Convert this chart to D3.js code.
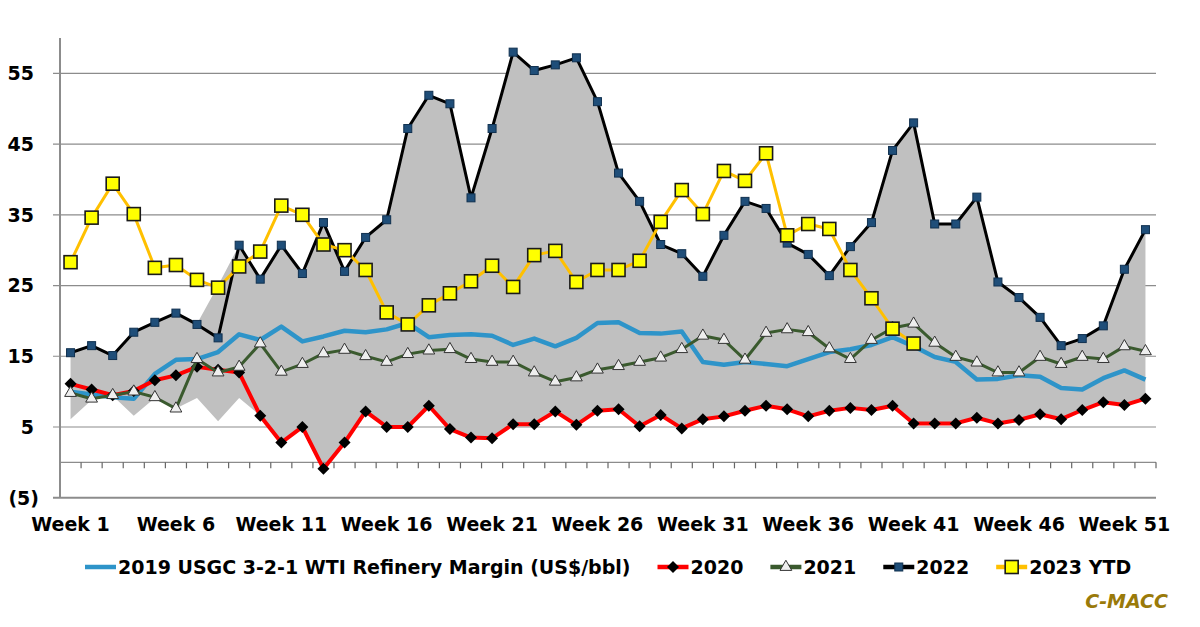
<!DOCTYPE html>
<html lang="en">
<head>
  <meta charset="UTF-8" />
  <title>USGC 3-2-1 WTI Refinery Margin</title>
  <style>
  body {
    margin: 0;
    background: #fff;
  }
  svg {
    display: block;
    font-family: "DejaVu Sans", sans-serif;
    font-weight: bold;
  }
  </style>
  <script src="https://d3js.org/d3.v7.min.js"></script>
</head>
<body>
  <div id="chart"></div>
  <script>
    // Weeks 1..52
    const weeks = d3.range(1, 53).map(i => "Week " + i);
    const weekLabels = ["Week 1", "Week 6", "Week 11", "Week 16", "Week 21", "Week 26", "Week 31", "Week 36", "Week 41", "Week 46", "Week 51"];
    const yTicks = [-5, 5, 15, 25, 35, 45, 55];

    const y2019 = [10.0, 9.6, 9.2, 9.0, 12.5, 14.5, 14.6, 15.6, 18.1, 17.3, 19.2, 17.1, 17.8, 18.6, 18.4, 18.8, 19.7, 17.7, 18.0, 18.1,
      17.9, 16.6, 17.5, 16.4, 17.6, 19.7, 19.8, 18.3, 18.2, 18.5, 14.2, 13.8, 14.2, 13.9, 13.6, 14.6, 15.6, 16.0, 16.6, 17.7,
      16.4, 14.9, 14.2, 11.7, 11.8, 12.3, 12.1, 10.5, 10.3, 11.9, 13.0, 11.7];
    const y2020 = [11.1, 10.3, 9.5, 10.1, 11.6, 12.3, 13.5, 13.1, 12.7, 6.6, 2.8, 5.0, -0.9, 2.8, 7.2, 5.0, 5.0, 8.0, 4.7, 3.5,
      3.4, 5.4, 5.4, 7.2, 5.3, 7.3, 7.5, 5.1, 6.7, 4.8, 6.1, 6.5, 7.3, 8.0, 7.5, 6.5, 7.3, 7.7, 7.4, 8.0,
      5.5, 5.5, 5.5, 6.3, 5.5, 6.0, 6.8, 6.1, 7.4, 8.5, 8.1, 9.0];
    const y2021 = [9.8, 9.0, 9.5, 10.0, 9.2, 7.6, 14.6, 12.7, 13.5, 16.8, 12.8, 13.9, 15.4, 15.9, 15.0, 14.2, 15.3, 15.8, 16.0, 14.6,
      14.2, 14.2, 12.7, 11.4, 12.0, 13.1, 13.6, 14.2, 14.8, 16.0, 17.9, 17.3, 14.5, 18.3, 18.8, 18.4, 16.1, 14.6, 17.3, 19.0,
      19.6, 16.9, 14.9, 14.1, 12.7, 12.7, 14.9, 13.9, 14.9, 14.6, 16.4, 15.7];
    const y2022 = [15.5, 16.5, 15.1, 18.4, 19.8, 21.1, 19.5, 17.6, 30.7, 25.9, 30.7, 26.7, 33.9, 27.0, 31.8, 34.3, 47.2, 51.9, 50.7, 37.4,
      47.2, 58.0, 55.4, 56.2, 57.2, 51.0, 40.9, 36.9, 30.8, 29.5, 26.3, 32.1, 36.9, 35.9, 31.0, 29.4, 26.4, 30.5, 33.9, 44.1,
      48.0, 33.7, 33.7, 37.5, 25.5, 23.3, 20.5, 16.5, 17.5, 19.3, 27.3, 32.9];
    const y2023 = [28.3, 34.6, 39.4, 35.1, 27.5, 27.9, 25.8, 24.7, 27.7, 29.8, 36.3, 35.0, 30.8, 30.0, 27.2, 21.2, 19.5, 22.2, 23.9, 25.6,
      27.8, 24.8, 29.3, 29.9, 25.5, 27.2, 27.2, 28.5, 34.0, 38.5, 35.1, 41.2, 39.8, 43.7, 32.1, 33.7, 33.0, 27.2, 23.2, 18.9,
      16.8];

    // Grey range band (high / low)
    const bandHigh = [15.5, 16.5, 15.1, 18.4, 19.8, 21.1, 19.6, 25.0, 30.7, 25.9, 30.7, 26.7, 33.9, 27.0, 31.8, 34.3, 47.2, 51.9, 50.7, 37.4,
      47.2, 58.0, 55.4, 56.2, 57.2, 51.0, 40.9, 36.9, 30.8, 29.5, 26.3, 32.1, 36.9, 35.9, 31.0, 29.4, 26.4, 30.5, 33.9, 44.1,
      48.0, 33.7, 33.7, 37.5, 25.5, 23.3, 20.5, 16.5, 17.5, 19.3, 27.3, 32.9];
    const bandLow = [6.1, 8.8, 9.4, 6.6, 9.1, 7.6, 9.1, 5.8, 9.1, 6.6, 2.8, 5.0, -0.9, 2.8, 7.2, 5.0, 5.0, 8.0, 4.7, 3.5,
      3.4, 5.4, 5.4, 7.2, 5.3, 7.3, 7.5, 5.1, 6.7, 4.8, 6.1, 6.5, 7.3, 8.0, 7.5, 6.5, 7.3, 7.7, 7.4, 8.0,
      5.5, 5.5, 5.5, 6.3, 5.5, 6.0, 6.8, 6.1, 7.4, 8.5, 8.1, 9.0];

    const series = [
      { name: "2019 USGC 3-2-1 WTI Refinery Margin (US$/bbl)", values: y2019, color: "#2e94c9", width: 4.5, marker: null },
      { name: "2020", values: y2020, color: "#ff0000", width: 4, marker: "diamond" },
      { name: "2021", values: y2021, color: "#3a5a2e", width: 3, marker: "triangle" },
      { name: "2022", values: y2022, color: "#000000", width: 3, marker: "navy" },
      { name: "2023 YTD", values: y2023, color: "#ffc000", width: 3, marker: "yellow" }
    ];

    const width = 1200, height = 627;
    const margin = { top: 38, right: 44, bottom: 129.3, left: 60 };

    const svg = d3.select("#chart").append("svg")
      .attr("width", width)
      .attr("height", height);

    const x = d3.scaleBand()
      .domain(weeks)
      .range([margin.left, width - margin.right]);

    const y = d3.scaleLinear()
      .domain([-5, 60])
      .range([height - margin.bottom, margin.top]);

    const cx = (d, i) => x(weeks[i]) + x.bandwidth() / 2;

    // Gridlines (behind the grey band)
    svg.append("g")
      .selectAll("line")
      .data(yTicks)
      .enter().append("line")
      .attr("x1", margin.left - 7)
      .attr("x2", width - margin.right)
      .attr("y1", d => y(d))
      .attr("y2", d => y(d))
      .attr("stroke", "#8c8c8c")
      .attr("stroke-width", d => d === -5 ? 2 : 1.2);

    // Y labels, accounting style
    svg.append("g")
      .selectAll("text")
      .data(yTicks)
      .enter().append("text")
      .attr("x", d => d < 0 ? 39 : 34)
      .attr("y", d => y(d))
      .attr("dy", "0.36em")
      .attr("text-anchor", "end")
      .attr("font-size", 19)
      .attr("fill", "#000")
      .text(d => d < 0 ? `(${-d})` : d);

    // Grey range area
    const area = d3.area()
      .x(cx)
      .y0((d, i) => y(bandLow[i]))
      .y1(d => y(d));

    svg.append("path")
      .datum(bandHigh)
      .attr("d", area)
      .attr("fill", "#c0c0c0");

    // Left axis line
    svg.append("line")
      .attr("x1", margin.left).attr("x2", margin.left)
      .attr("y1", margin.top).attr("y2", y(-5))
      .attr("stroke", "#8c8c8c")
      .attr("stroke-width", 2);

    // Category axis on zero line, ticks between weeks
    const zero = y(0);
    svg.append("line")
      .attr("x1", margin.left).attr("x2", width - margin.right)
      .attr("y1", zero).attr("y2", zero)
      .attr("stroke", "#8c8c8c")
      .attr("stroke-width", 1.2);

    svg.append("g")
      .selectAll("line")
      .data(weeks.slice(1).concat(["end"]))
      .enter().append("line")
      .attr("x1", d => d === "end" ? width - margin.right : x(d))
      .attr("x2", d => d === "end" ? width - margin.right : x(d))
      .attr("y1", zero)
      .attr("y2", zero + 6)
      .attr("stroke", "#666")
      .attr("stroke-width", 1.2);

    svg.append("g")
      .selectAll("text")
      .data(weekLabels)
      .enter().append("text")
      .attr("x", d => x(d) + x.bandwidth() / 2)
      .attr("y", 531)
      .attr("text-anchor", "middle")
      .attr("font-size", 19)
      .attr("fill", "#000")
      .text(d => d);

    // Marker drawing
    function drawMarker(sel, type) {
      if (type === "diamond") {
        sel.append("path")
          .attr("d", d3.symbol(d3.symbolSquare, 72)())
          .attr("transform", "rotate(45)")
          .attr("fill", "#000");
      } else if (type === "triangle") {
        sel.append("path")
          .attr("d", d3.symbol(d3.symbolTriangle, 60)())
          .attr("fill", "#eeeeee")
          .attr("stroke", "#333")
          .attr("stroke-width", 1);
      } else if (type === "navy") {
        sel.append("rect")
          .attr("x", -4).attr("y", -4).attr("width", 8).attr("height", 8)
          .attr("fill", "#1f4e79")
          .attr("stroke", "#10304f")
          .attr("stroke-width", 1);
      } else if (type === "yellow") {
        sel.append("rect")
          .attr("x", -6.5).attr("y", -6.5).attr("width", 13).attr("height", 13)
          .attr("fill", "#ffff00")
          .attr("stroke", "#1a1a1a")
          .attr("stroke-width", 1.6);
      }
    }

    const line = d3.line().x(cx).y(d => y(d));

    series.forEach(s => {
      svg.append("path")
        .datum(s.values)
        .attr("d", line)
        .attr("fill", "none")
        .attr("stroke", s.color)
        .attr("stroke-width", s.width)
        .attr("stroke-linejoin", "round");

      if (s.marker) {
        svg.append("g")
          .selectAll("g")
          .data(s.values)
          .enter().append("g")
          .attr("transform", (d, i) => `translate(${cx(d, i)},${y(d)})`)
          .call(drawMarker, s.marker);
      }
    });

    // Legend
    const legend = svg.append("g");
    let lx = 85;
    const ly = 567;
    series.forEach(s => {
      const item = legend.append("g");
      item.append("line")
        .attr("x1", lx).attr("x2", lx + 31)
        .attr("y1", ly).attr("y2", ly)
        .attr("stroke", s.color)
        .attr("stroke-width", 4.5);
      if (s.marker) {
        item.append("g")
          .attr("transform", `translate(${lx + 15.5},${ly})`)
          .call(drawMarker, s.marker);
      }
      const t = item.append("text")
        .attr("x", lx + 33)
        .attr("y", ly + 7)
        .attr("font-size", 19)
        .attr("fill", "#000")
        .text(s.name);
      lx += 33 + t.node().getComputedTextLength() + 27;
    });

    // Source tag
    svg.append("text")
      .attr("x", 1168)
      .attr("y", 608)
      .attr("text-anchor", "end")
      .attr("font-size", 19)
      .attr("font-style", "italic")
      .attr("fill", "#9a7a0a")
      .text("C-MACC");
  </script>
</body>
</html>
